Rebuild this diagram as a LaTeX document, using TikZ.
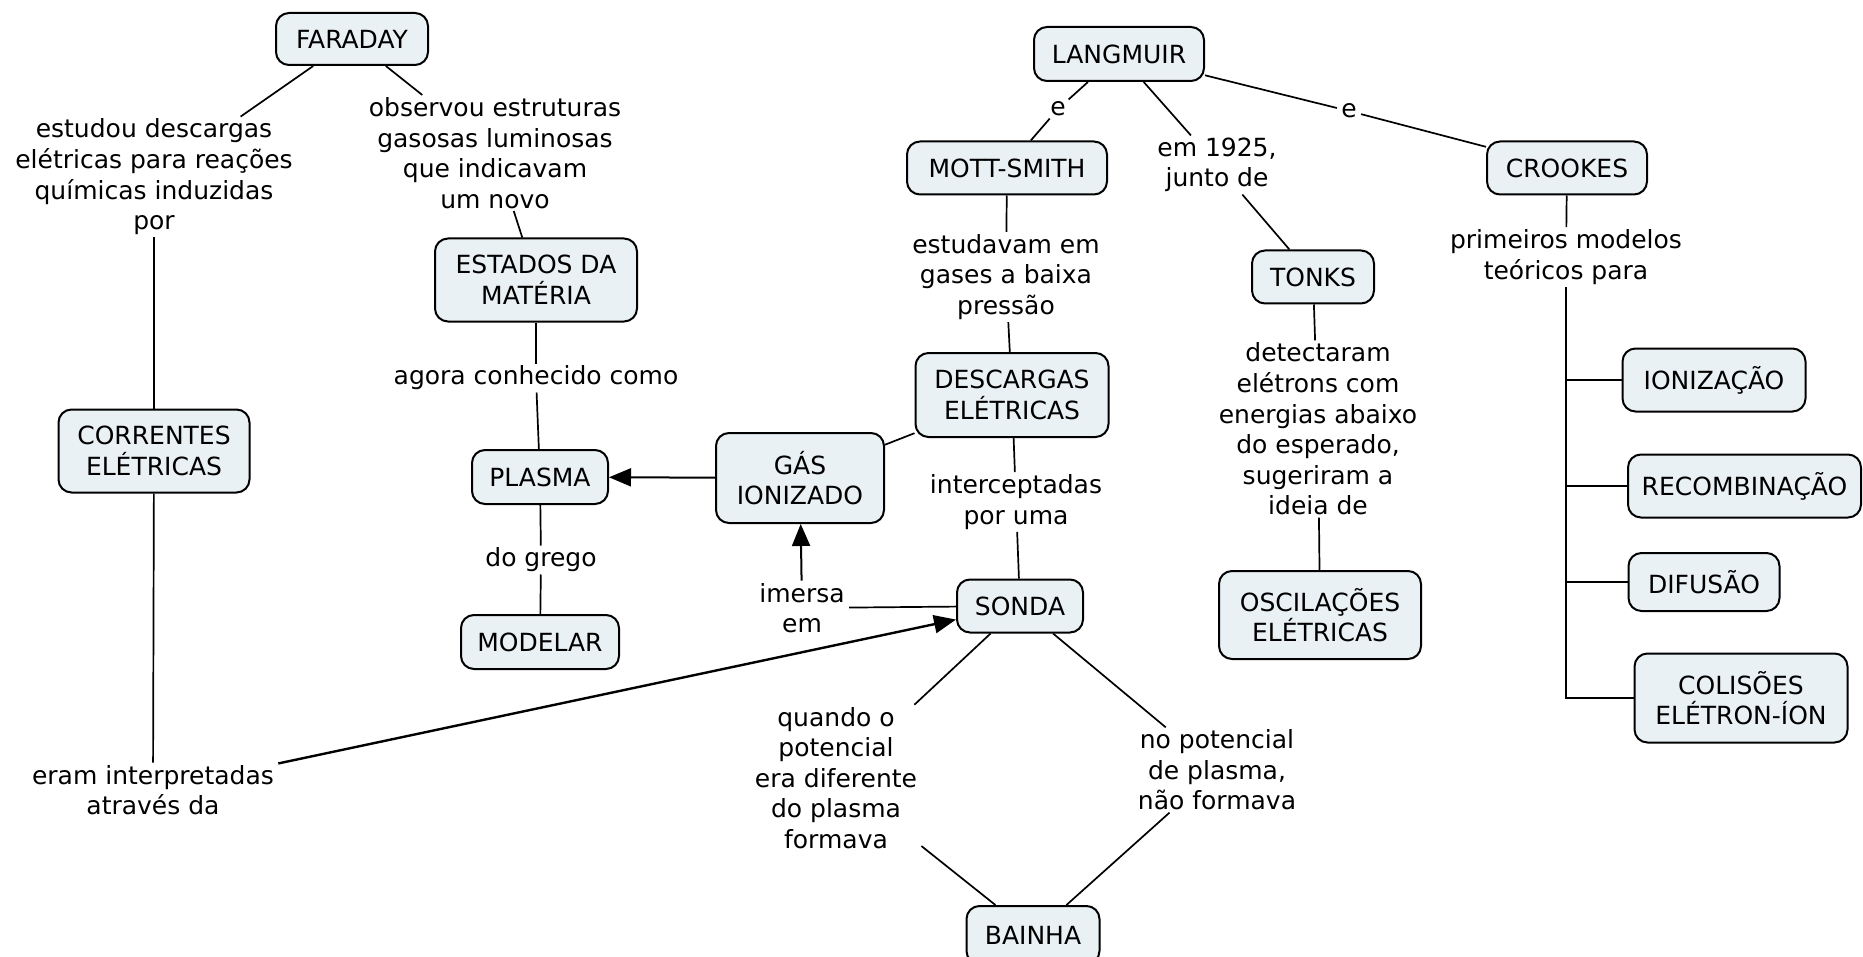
\documentclass[tikz,border=0pt]{standalone}
\usepackage{fontspec}
\setmainfont{DejaVu Sans}
\usetikzlibrary{arrows.meta}
\definecolor{boxfill}{RGB}{234,241,244}
\newcommand{\cmfont}{\fontsize{12.5pt}{15.3pt}\selectfont}
\begin{document}
\begin{tikzpicture}[x=0.5pt,y=-0.5pt,
  concept/.style={draw=black,line width=1pt,rounded corners=6.5pt,fill=boxfill,align=center,inner xsep=3pt,inner ysep=2pt,font=\cmfont},
  link/.style={align=center,inner xsep=2pt,inner ysep=1pt,font=\cmfont},
  conn/.style={line width=0.85pt},
  arr/.style={line width=1pt,-{Triangle[length=11pt,width=9pt]}},
  trunk/.style={line width=1pt}]
\useasboundingbox (0,0) rectangle (1863,957);
\fill[white] (0,0) rectangle (1863,957);

% concepts
\node[concept,minimum width=76pt,minimum height=26pt] (faraday) at (352,39) {FARADAY};
\node[concept,minimum width=85pt,minimum height=27pt] (langmuir) at (1119,54) {LANGMUIR};
\node[concept,minimum width=100pt,minimum height=26.5pt] (mott) at (1007,168) {MOTT-SMITH};
\node[concept,minimum width=80pt,minimum height=26.5pt] (crookes) at (1567,168) {CROOKES};
\node[concept,minimum width=101pt,minimum height=41.5pt] (estados) at (536,280) {ESTADOS DA\\MATÉRIA};
\node[concept,minimum width=61pt,minimum height=26.5pt] (tonks) at (1313,277) {TONKS};
\node[concept,minimum width=95.5pt,minimum height=41.5pt] (correntes) at (154,451) {CORRENTES\\ELÉTRICAS};
\node[concept,minimum width=96.5pt,minimum height=42pt] (descargas) at (1012,395) {DESCARGAS\\ELÉTRICAS};
\node[concept,minimum width=68pt,minimum height=27pt] (plasma) at (540,477) {PLASMA};
\node[concept,minimum width=84pt,minimum height=45pt] (gas) at (800,478) {GÁS\\IONIZADO};
\node[concept,minimum width=91.5pt,minimum height=31.5pt] (ioni) at (1714,380) {IONIZAÇÃO};
\node[concept,minimum width=116.5pt,minimum height=31.5pt] (recomb) at (1744.5,486) {RECOMBINAÇÃO};
\node[concept,minimum width=75.5pt,minimum height=29pt] (difusao) at (1704,582) {DIFUSÃO};
\node[concept,minimum width=106.5pt,minimum height=44.5pt] (colisoes) at (1741,698) {COLISÕES\\ELÉTRON-ÍON};
\node[concept,minimum width=63pt,minimum height=26.5pt] (sonda) at (1020,606) {SONDA};
\node[concept,minimum width=101pt,minimum height=44pt] (oscil) at (1320,615) {OSCILAÇÕES\\ELÉTRICAS};
\node[concept,minimum width=79pt,minimum height=27pt] (modelar) at (540,642) {MODELAR};
\node[concept,minimum width=66.5pt,minimum height=29pt] (bainha) at (1033,935) {BAINHA};

% linking phrases
\node[link] (estudou) at (154,177) {estudou descargas\\elétricas para reações\\químicas induzidas\\por};
\node[link] (observou) at (495,153) {observou estruturas\\gasosas luminosas\\que indicavam\\um novo};
\node[link] (agora) at (536,378) {agora conhecido como};
\node[link] (grego) at (541,560) {do grego};
\node[link] (eL) at (1058,109) {e};
\node[link] (eR) at (1349,111) {e};
\node[link] (em1925) at (1217,165) {em 1925,\\junto de};
\node[link] (estudavam) at (1006,277) {estudavam em\\gases a baixa\\pressão};
\node[link] (prim) at (1566,257) {primeiros modelos\\teóricos para};
\node[link] (detect) at (1318,429) {detectaram\\elétrons com\\energias abaixo\\do esperado,\\sugeriram a\\ideia de};
\node[link] (intercept) at (1016,502) {interceptadas\\por uma};
\node[link] (imersa) at (802,608) {imersa\\em};
\node[link] (eram) at (153,790) {eram interpretadas\\através da};
\node[link] (quando) at (836,778) {quando o\\potencial\\era diferente\\do plasma\\formava};
\node[link] (nopot) at (1217,770) {no potencial\\de plasma,\\não formava};

% connectors
\draw[conn] (faraday) -- (estudou);
\draw[conn] (estudou) -- (correntes);
\draw[conn] (correntes) -- (eram);
\draw[arr,line width=1.2pt] (eram) -- (sonda);
\draw[conn] (faraday) -- (observou);
\draw[conn] (observou) -- (estados);
\draw[conn] (estados) -- (agora);
\draw[conn] (agora) -- (plasma);
\draw[conn] (plasma) -- (grego);
\draw[conn] (grego) -- (modelar);
\draw[arr] (gas) -- (plasma);
\draw[conn] (descargas) -- (gas);
\draw[conn] (descargas) -- (intercept);
\draw[conn] (intercept) -- (sonda);
\draw[conn] (sonda) -- (imersa);
\draw[arr] (imersa) -- (gas);
\draw[conn] (langmuir) -- (eL);
\draw[conn] (eL) -- (mott);
\draw[conn] (langmuir) -- (em1925);
\draw[conn] (em1925) -- (tonks);
\draw[conn] (langmuir) -- (eR);
\draw[conn] (eR) -- (crookes);
\draw[conn] (mott) -- (estudavam);
\draw[conn] (estudavam) -- (descargas);
\draw[conn] (tonks) -- (detect);
\draw[conn] (detect) -- (oscil);
\draw[conn] (crookes) -- (prim);
\draw[trunk] (prim.south) |- (colisoes.west);
\draw[trunk] (prim.south |- ioni.west) -- (ioni.west);
\draw[trunk] (prim.south |- recomb.west) -- (recomb.west);
\draw[trunk] (prim.south |- difusao.west) -- (difusao.west);
\draw[conn] (sonda) -- (quando);
\draw[conn] (quando) -- (bainha);
\draw[conn] (sonda) -- (nopot);
\draw[conn] (nopot) -- (bainha);
\end{tikzpicture}
\end{document}
